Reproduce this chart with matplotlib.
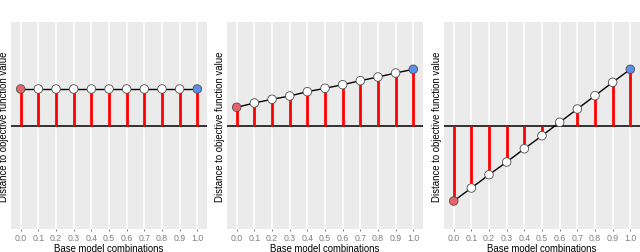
import numpy as np
import matplotlib
matplotlib.use("Agg")
import matplotlib.pyplot as plt

plt.rcParams['font.family'] = ['Liberation Sans', 'DejaVu Sans']

weights = [0.0, 0.1, 0.2, 0.3, 0.4, 0.5, 0.6, 0.7, 0.8, 0.9, 1.0]
tick_labels = ['0.0', '0.1', '0.2', '0.3', '0.4', '0.5', '0.6', '0.7', '0.8', '0.9', '1.0']

# distance to objective value, one list per panel
dist_flat = [0.37, 0.37, 0.37, 0.37, 0.37, 0.37, 0.37, 0.37, 0.37, 0.37, 0.37]
dist_rise = [0.187, 0.23, 0.267, 0.30, 0.343, 0.377, 0.413, 0.453, 0.49, 0.53, 0.567]
dist_cross = [-0.75, -0.62, -0.487, -0.36, -0.227, -0.097, 0.037, 0.17, 0.303, 0.437, 0.567]

panels = [dist_flat, dist_rise, dist_cross]
# axes rectangles in pixels (left, right)
boxes = [(11, 207), (227, 423), (444, 640)]

W, H = 640, 253
fig = plt.figure(figsize=(W / 100, H / 100), dpi=100)

for (x0, x1), vals in zip(boxes, panels):
    ax = fig.add_axes([x0 / W, (H - 230) / H, (x1 - x0) / W, (230 - 23) / H])
    ax.set_facecolor('#EBEBEB')
    ax.set_xlim(-0.055, 1.055)
    ax.set_ylim(-1.03, 1.04)
    ax.set_xticks(weights)
    ax.set_xticklabels(tick_labels, fontsize=6.3, color='#7F7F7F')
    ax.set_yticks([])
    ax.grid(axis='x', color='white', linewidth=1.1)
    ax.set_axisbelow(True)
    for s in ax.spines.values():
        s.set_visible(False)
    ax.tick_params(axis='x', length=1.5, width=0.7, color='#7F7F7F', pad=1.5)
    ax.axhline(0, color='black', linewidth=1.1, zorder=2)
    ax.vlines(weights, 0, vals, color='#FF0000', linewidth=2.0, zorder=3)
    ax.plot(weights, vals, color='black', linewidth=1.0, zorder=4)
    fills = ['#E8636A'] + ['white'] * 9 + ['#5B8FEA']
    ax.scatter(weights, vals, s=38, c=fills, edgecolors='#4D4D4D', linewidths=0.6, zorder=5)
    ax.set_xlabel('Base model combinations', fontsize=6.9, labelpad=0.3)
    ax.set_ylabel('Distance to objective function value', fontsize=6.9, labelpad=1.5)

fig.savefig('out.png', dpi=100)
